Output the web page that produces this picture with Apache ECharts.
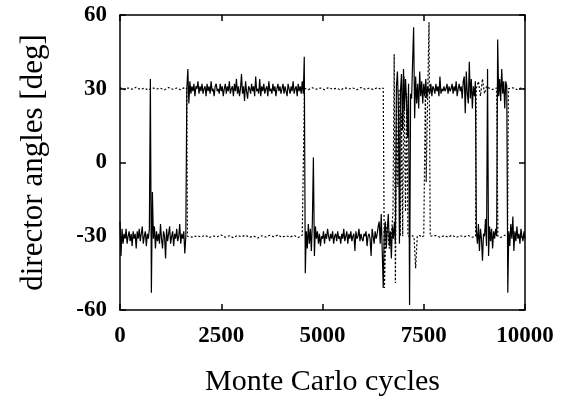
<!DOCTYPE html>
<html>
<head>
<meta charset="utf-8">
<script src="https://cdn.jsdelivr.net/npm/echarts@6/dist/echarts.min.js"></script>
<style>
  html, body { margin: 0; padding: 0; background: #fff; }
  #chart { width: 569px; height: 402px; }
</style>
</head>
<body>
<div id="chart"></div>
<script>
// axis ticks
const xTicks = [0, 2500, 5000, 7500, 10000]
const yTicks = [-60, -30, 0, 30, 60]

// solid director, sampled every 25 cycles from 0 to 10000 (one row = 500 cycles)
const solidStep = 25
const solidAngles = [
  -24, -38, -27, -33, -29, -31, -27, -33, -30, -28, -32, -29, -34, -28, -31, -29, -35, -28, -31, -27,
  -32, -29, -26, -33, -30, -28, -34, -29, -31, -27, 34, -53, -12, -31, -26, -35, -28, -32, -29, -33,
  -25, -31, -35, -28, -30, -39, -27, -32, -29, -26, -33, -30, -28, -34, -29, -31, -27, -32, -30, -25,
  -33, -29, -31, -28, -37, -30, 30, 38, 24, 33, 28, 31, 29, 32, 27, 31, 30, 33, 28, 31,
  29, 32, 28, 30, 31, 27, 32, 29, 31, 28, 33, 29, 30, 27, 31, 32, 29, 30, 28, 32,
  29, 31, 27, 30, 32, 28, 31, 29, 33, 28, 30, 31, 27, 32, 29, 34, 28, 31, 27, 30,
  36, 28, 31, 25, 33, 29, 26, 31, 30, 28, 32, 29, 31, 27, 35, 29, 30, 28, 34, 27,
  31, 29, 32, 28, 30, 31, 27, 33, 29, 30, 28, 32, 29, 31, 27, 30, 32, 29, 31, 28,
  30, 32, 28, 31, 29, 27, 32, 30, 28, 31, 29, 33, 28, 30, 31, 27, 32, 29, 31, 28,
  33, 28, 43, -45, -28, -35, -25, -33, -27, -36, -24, 2, -38, -26, -31, -28, -33, -29, -34, -30,
  -31, -28, -33, -29, -31, -27, -30, -32, -29, -31, -28, -33, -30, -29, -32, -28, -31, -30, -33, -29,
  -31, -27, -32, -30, -28, -33, -29, -31, -28, -32, -30, -29, -36, -28, -31, -30, -27, -32, -29, -31,
  -32, -29, -30, -28, -34, -30, -29, -31, -38, -27, -30, -33, -28, -31, -29, -26, -24, -33, -21, -36,
  -51, -28, -24, -35, -27, -21, -34, -28, -39, -26, -31, -24, -33, 31, 37, 22, -33, 29, 36, 13,
  38, 21, 34, 25, 10, 32, -58, 28, 26, 41, 55, 18, 35, 24, 32, 22, 37, 27, 33, 24,
  32, 27, 34, 26, 31, 29, 28, 32, 27, 31, 30, 28, 32, 29, 31, 27, 35, 28, 30, 29,
  31, 29, 30, 32, 28, 31, 29, 30, 32, 28, 31, 29, 33, 27, 30, 32, 29, 31, 26, 33,
  35, 20, 37, 28, 24, 41, 26, 34, 22, 31, 27, 33, -28, -33, -25, -36, -27, -31, -40, -29,
  -30, -23, -34, 38, -38, -26, -32, -27, -35, -28, -31, -27, -30, 50, 27, 34, 25, 38, 28, 33,
  22, 33, 31, -53, -28, -34, -25, -31, -22, -36, -28, -32, -26, -31, -29, -33, -27, -30, -32, -28,
  -31
]

// dotted director: [cycle, angle]
const dottedPoints = [
  [0, 30.5], [100, 29.6], [200, 30.3], [300, 29.8], [400, 30.6], [500, 29.7], [600, 30.2], [700, 29.5],
  [800, 30.4], [900, 29.9], [1000, 30.2], [1100, 29.6], [1200, 30.5], [1300, 29.8], [1400, 30.3], [1500, 29.6],
  [1600, 30.6], [1650, 30],
  [1665, -30], [1700, -29.6], [1800, -30.4], [1900, -29.8], [2000, -30.3], [2100, -29.6], [2200, -30.5],
  [2300, -29.9], [2400, -30.2], [2500, -29.5], [2600, -30.4], [2700, -29.8], [2800, -30.6], [2900, -29.7],
  [3000, -30.2], [3100, -29.6], [3200, -30.4], [3300, -29.9], [3400, -30.7], [3500, -29.8], [3600, -30.3],
  [3700, -29.6], [3800, -30.2], [3900, -29.5], [4000, -30.4], [4100, -29.8], [4200, -30.3], [4300, -29.7],
  [4400, -30.5], [4500, -29.6], [4530, -30],
  [4555, 30.2], [4650, 29.6], [4750, 30.4], [4850, 29.8], [4950, 30.3], [5050, 29.6], [5150, 30.5],
  [5250, 29.8], [5350, 30.2], [5450, 29.5], [5550, 30.4], [5650, 29.9], [5750, 30.3], [5850, 29.6],
  [5950, 30.5], [6050, 29.8], [6150, 30.2], [6250, 29.7], [6350, 30.4], [6450, 29.8], [6500, 30.3],
  [6530, -51], [6560, -30], [6600, -25], [6650, -35], [6700, -30], [6740, -20], [6770, 44], [6800, -49],
  [6830, 25], [6860, -10], [6890, 30], [6920, -30], [6950, 20], [6980, -30], [7010, 35], [7050, -20],
  [7080, 28], [7110, -30], [7140, -30.5], [7200, -29.6], [7260, -30.3], [7300, -43], [7340, -30],
  [7400, -29.7], [7450, -30.4], [7500, -29.8], [7540, 30], [7560, -8], [7600, 30], [7630, 57], [7660, -30],
  [7700, -30.3], [7800, -29.7], [7900, -30.4], [8000, -29.8], [8100, -30.3], [8200, -29.6], [8300, -30.5],
  [8400, -29.8], [8500, -30.2], [8600, -29.7], [8700, -30.4], [8780, -30],
  [8795, 30], [8850, 33], [8900, 27], [8950, 34], [9000, 28], [9050, 31], [9100, 30.4], [9200, 29.7],
  [9300, 30.3], [9330, -30], [9400, -30.5], [9500, -29.6], [9570, -30.2],
  [9590, 30], [9700, 30.4], [9800, 29.7], [9900, 30.3], [10000, 29.9]
]

const solidPoints = solidAngles.map((a, i) => [i * solidStep, a])

const serif = '"Liberation Serif", "DejaVu Serif", serif'

const chart = echarts.init(document.getElementById('chart'), null, { renderer: 'canvas' })

const axisLine = { show: true, onZero: false, lineStyle: { color: '#000', width: 1.5 } }
const innerTick = { show: true, inside: true, length: 6, lineStyle: { color: '#000', width: 1.5 } }
const tickFont = { fontFamily: serif, fontSize: 23, fontWeight: 'bold', color: '#000' }

chart.setOption({
  animation: false,
  backgroundColor: '#fff',
  grid: { left: 120, right: 44, top: 15, bottom: 92 },
  xAxis: [
    {
      type: 'value',
      min: xTicks[0],
      max: xTicks[xTicks.length - 1],
      interval: 2500,
      name: 'Monte Carlo cycles',
      nameLocation: 'middle',
      nameGap: 57,
      nameTextStyle: { fontFamily: serif, fontSize: 30, color: '#000' },
      axisLine: axisLine,
      axisTick: innerTick,
      splitLine: { show: false },
      axisLabel: { ...tickFont, margin: 15, formatter: v => String(v) }
    },
    {
      type: 'value',
      position: 'top',
      min: xTicks[0],
      max: xTicks[xTicks.length - 1],
      interval: 2500,
      axisLine: axisLine,
      axisTick: innerTick,
      splitLine: { show: false },
      axisLabel: { show: false }
    }
  ],
  yAxis: [
    {
      type: 'value',
      min: yTicks[0],
      max: yTicks[yTicks.length - 1],
      interval: 30,
      name: 'director angles [deg]',
      nameLocation: 'middle',
      nameGap: 71,
      nameTextStyle: { fontFamily: serif, fontSize: 31, color: '#000' },
      axisLine: axisLine,
      axisTick: innerTick,
      splitLine: { show: false },
      axisLabel: { ...tickFont, margin: 13, formatter: v => String(v) }
    },
    {
      type: 'value',
      position: 'right',
      min: yTicks[0],
      max: yTicks[yTicks.length - 1],
      interval: 30,
      axisLine: axisLine,
      axisTick: innerTick,
      splitLine: { show: false },
      axisLabel: { show: false }
    }
  ],
  series: [
    {
      type: 'line',
      data: dottedPoints,
      showSymbol: false,
      symbol: 'none',
      lineStyle: { color: '#000', width: 1.2, type: [2, 2] },
      z: 2
    },
    {
      type: 'line',
      data: solidPoints,
      showSymbol: false,
      symbol: 'none',
      lineStyle: { color: '#000', width: 1.2 },
      z: 3
    }
  ]
})
</script>
</body>
</html>
